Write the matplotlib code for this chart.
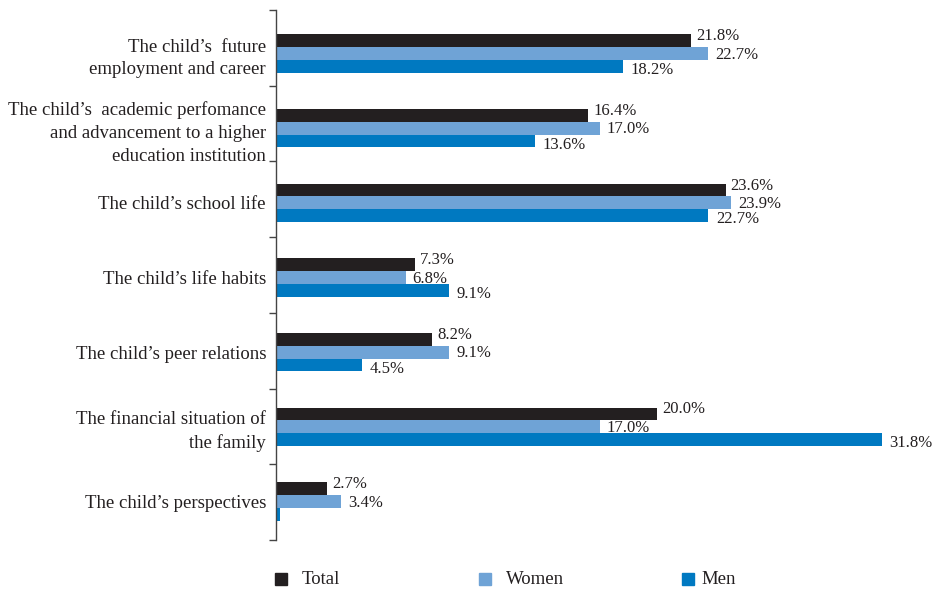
import matplotlib.pyplot as plt
import numpy as np
from matplotlib.patches import Rectangle

plt.rcParams['font.family'] = ['Liberation Serif', 'DejaVu Serif']

categories = [
    "The child\u2019s  future\nemployment and career",
    "The child\u2019s  academic perfomance\nand advancement to a higher\neducation institution",
    "The child\u2019s school life",
    "The child\u2019s life habits",
    "The child\u2019s peer relations",
    "The financial situation of\nthe family",
    "The child\u2019s perspectives",
]
series_names = ["Total", "Women", "Men"]
total = [21.8, 16.4, 23.6, 7.3, 8.2, 20.0, 2.7]
women = [22.7, 17.0, 23.9, 6.8, 9.1, 17.0, 3.4]
men = [18.2, 13.6, 22.7, 9.1, 4.5, 31.8, 0.2]
men_labels = ["18.2%", "13.6%", "22.7%", "9.1%", "4.5%", "31.8%", None]
colors = ["#231f20", "#6fa3d6", "#0079c1"]

fig = plt.figure(figsize=(9.35, 5.92), dpi=100)
W, H = 935, 592
ax = fig.add_axes([276 / W, (H - 540) / H, (W - 276) / W, 530 / H])

y = np.arange(len(categories))
h = 0.172
series = [total, women, men]
label_dy = [-0.06, 0.015, 0.05]
label_dx = [0.26, 0.37, 0.4]
for k, (vals, c) in enumerate(zip(series, colors)):
    ax.barh(y + (k - 1) * h, vals, height=h, color=c, zorder=2)
    for i, v in enumerate(vals):
        lab = men_labels[i] if k == 2 else f"{v:.1f}%"
        if lab is None:
            continue
        ax.text(v + label_dx[k], y[i] + (k - 1) * h + label_dy[k], lab,
                va='center', ha='left', fontsize=12, color='#231f20', zorder=1)

ymin, ymax = -0.583, 6.516
ax.set_ylim(ymax, ymin)
ax.set_xlim(0, (W - 276) / 19.05)

ax.set_yticks(np.linspace(ymin, ymax, 8))
ax.set_yticklabels([])
ax.tick_params(axis='y', which='major', direction='out', length=5, width=1, color='#444444')
ax.set_yticks(y, minor=True)
ax.set_yticklabels(categories, minor=True, fontsize=13.5, ha='right',
                   linespacing=1.45, color='#231f20')
ax.tick_params(axis='y', which='minor', length=0, pad=7.2)
ax.set_xticks([])

for s in ['top', 'right', 'bottom']:
    ax.spines[s].set_visible(False)
ax.spines['left'].set_color('#444444')
ax.spines['left'].set_linewidth(1)

legend_marker_x = [275, 479, 682]
legend_text_x = [302, 506, 701]
for name, c, mx, tx in zip(series_names, colors, legend_marker_x, legend_text_x):
    fig.patches.append(Rectangle((mx / W, (H - 585) / H), 12 / W, 12 / H,
                                 transform=fig.transFigure, color=c))
    fig.text(tx / W, (H - 579) / H, name, fontsize=13.5, va='center', ha='left',
             color='#231f20')

fig.savefig('out.png', dpi=100)
